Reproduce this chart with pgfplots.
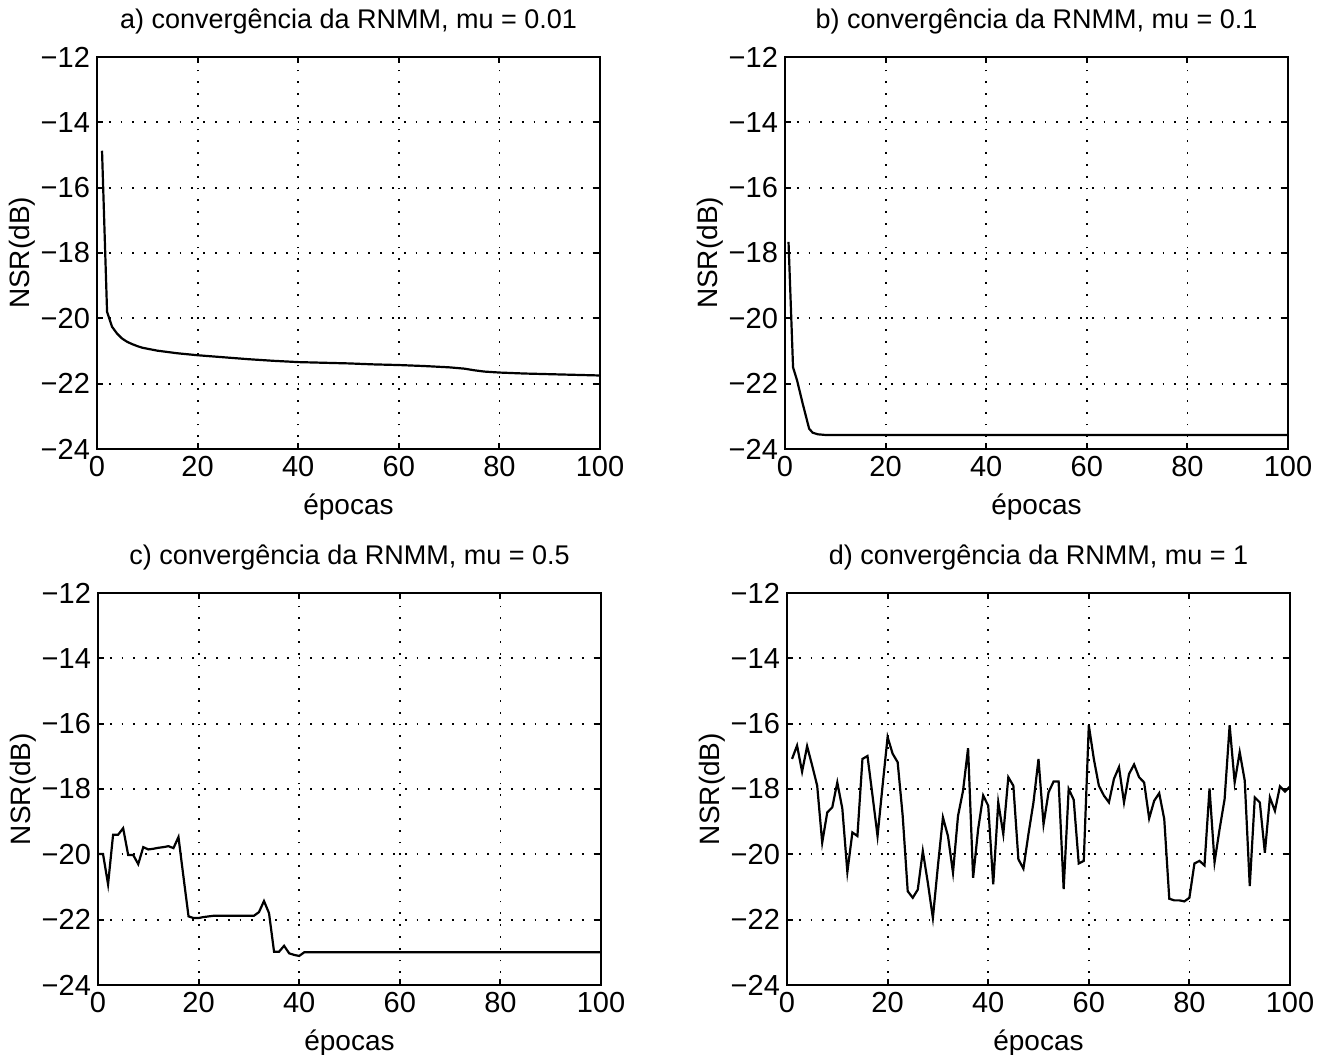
\documentclass[border=0pt]{standalone}
\usepackage{fontspec}
\setmainfont{Liberation Sans}
\usepackage{pgfplots}
\pgfplotsset{compat=1.18}

\pgfplotsset{
  rnmm/.style={
    width=251.5pt, height=196pt, scale only axis,
    anchor=south west,
    xmin=0, xmax=100, ymin=-24, ymax=-12,
    xtick={0,20,40,60,80,100}, xticklabels={0,20,40,60,80,100},
    ytick={-24,-22,-20,-18,-16,-14,-12},
    yticklabels={−24,−22,−20,−18,−16,−14,−12},
    grid=major,
    major grid style={black, line width=0.9pt, dash pattern=on 0.9pt off 5pt},
    tick align=inside, tick pos=both, major tick length=3pt,
    axis line style={line width=1.1pt},
    every tick/.style={black, line width=1pt},
    tick label style={font=\fontsize{14.5}{16}\selectfont},
    label style={font=\fontsize{14}{16}\selectfont},
    title style={font=\fontsize{13.5}{15}\selectfont, yshift=2pt},
    xlabel style={yshift=-2pt},
    ylabel style={yshift=-4pt},
    xlabel={épocas}, ylabel={NSR(dB)},
  },
  curve/.style={black, line width=1.1pt, no marks},
}

\begin{document}
\begin{tikzpicture}
\path[use as bounding box] (0,0) rectangle (659.5pt,527.5pt);

% a) mu = 0.01
\begin{axis}[rnmm, at={(48.5pt,303pt)}, title={a) convergência da RNMM, mu = 0.01}]
\addplot[curve] coordinates {
(1,-14.87) (2,-19.8) (3,-20.26) (4,-20.47) (5,-20.62) (6,-20.72) (7,-20.79)
(8,-20.85) (9,-20.9) (10,-20.93) (12,-20.99) (14,-21.03) (16,-21.07) (18,-21.10)
(20,-21.13) (25,-21.19) (30,-21.25) (35,-21.30) (40,-21.34) (45,-21.36) (50,-21.38)
(55,-21.41) (60,-21.43) (65,-21.46) (70,-21.50) (73,-21.54) (75,-21.59) (77,-21.63)
(80,-21.66) (85,-21.69) (90,-21.71) (95,-21.73) (100,-21.75)
};
\end{axis}

% b) mu = 0.1
\begin{axis}[rnmm, at={(392.5pt,303pt)}, title={b) convergência da RNMM, mu = 0.1}]
\addplot[curve] coordinates {
(0.7,-17.66) (1.6,-21.5) (2.4,-21.9) (3.5,-22.6) (4.8,-23.38) (5.5,-23.5)
(6.5,-23.55) (8,-23.57) (20,-23.57) (100,-23.57)
};
\end{axis}

% c) mu = 0.5
\begin{axis}[rnmm, at={(49pt,35pt)}, title={c) convergência da RNMM, mu = 0.5}]
\addplot[curve] coordinates {
(0,-19.99) (1,-19.99) (2,-20.92) (3,-19.4) (4,-19.4) (5,-19.2) (6,-20.02)
(7,-20.02) (8,-20.3) (9,-19.78) (10,-19.85) (11,-19.83) (12,-19.8) (13,-19.78)
(14,-19.75) (15,-19.81) (16,-19.47) (17,-20.7) (18,-21.9) (19,-21.95) (20,-21.95)
(21,-21.92) (22,-21.9) (23,-21.88) (31,-21.88) (32,-21.77) (33,-21.43) (34,-21.8)
(35,-22.98) (36,-22.98) (37,-22.8) (38,-23.03) (39,-23.08) (40,-23.11) (41,-23.0)
(100,-23.0)
};
\end{axis}

% d) mu = 1
\begin{axis}[rnmm, at={(393.5pt,35pt)}, title={d) convergência da RNMM, mu = 1}]
\addplot[curve] coordinates {
(1,-17.08) (2,-16.67) (3,-17.47) (4,-16.69) (5,-17.28) (6,-17.9) (7,-19.64)
(8,-18.72) (9,-18.56) (10,-17.8) (11,-18.6) (12,-20.54) (13,-19.33) (14,-19.44)
(15,-17.08) (16,-16.99) (17,-18.2) (18,-19.44) (19,-17.9) (20,-16.41) (21,-16.92)
(22,-17.18) (23,-18.82) (24,-21.13) (25,-21.33) (26,-21.08) (27,-19.9) (28,-20.87)
(29,-21.95) (30,-20.36) (31,-18.87) (32,-19.44) (33,-20.56) (34,-18.82) (35,-18.05)
(36,-16.75) (37,-20.72) (38,-19.23) (39,-18.2) (40,-18.51) (41,-20.92) (42,-18.41)
(43,-19.38) (44,-17.64) (45,-17.9) (46,-20.15) (47,-20.44) (48,-19.38) (49,-18.41)
(50,-17.08) (51,-19.08) (52,-18.1) (53,-17.77) (54,-17.77) (55,-21.06) (56,-18.0)
(57,-18.33) (58,-20.28) (59,-20.2) (60,-16.05) (61,-17.08) (62,-17.9) (63,-18.2)
(64,-18.41) (65,-17.69) (66,-17.33) (67,-18.41) (68,-17.54) (69,-17.25) (70,-17.64)
(71,-17.8) (72,-18.9) (73,-18.36) (74,-18.13) (75,-18.92) (76,-21.36) (77,-21.41)
(78,-21.41) (79,-21.44) (80,-21.33) (81,-20.28) (82,-20.2) (83,-20.34) (84,-17.98)
(85,-20.24) (86,-19.23) (87,-18.31) (88,-16.05) (89,-17.8) (90,-16.87) (91,-17.74)
(92,-20.97) (93,-18.26) (94,-18.41) (95,-19.95) (96,-18.26) (97,-18.67) (98,-17.92)
(99,-18.08) (100,-17.92)
};
\end{axis}
\end{tikzpicture}
\end{document}
